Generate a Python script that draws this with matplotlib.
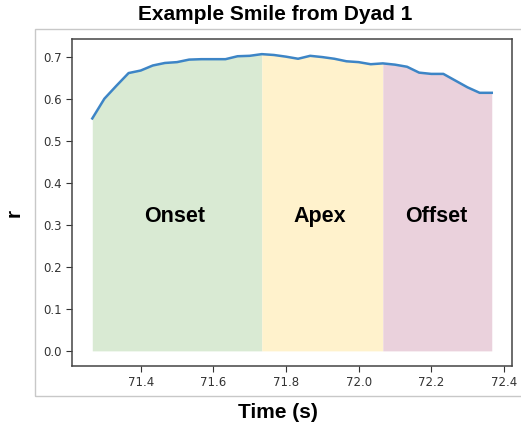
import numpy as np
import matplotlib.pyplot as plt
from matplotlib.patches import Rectangle

# frames at 30 fps
frames = np.arange(2138, 2172)
r_vals = [0.553, 0.600, 0.631, 0.661, 0.667, 0.679, 0.685, 0.687, 0.693, 0.694,
          0.694, 0.694, 0.701, 0.702, 0.706, 0.704, 0.700, 0.695, 0.702, 0.699,
          0.695, 0.689, 0.687, 0.682, 0.684, 0.681, 0.676, 0.662, 0.659, 0.659,
          0.643, 0.627, 0.614, 0.614]
phase_names = ["Onset", "Apex", "Offset"]
phase_bounds = [2138, 2152, 2162, 2171]  # frame indices
phase_colors = ["#d9ead3", "#fff2cc", "#ead1dc"]

t = frames / 30.0
r = np.array(r_vals)

fig = plt.figure(figsize=(5.21, 4.30), dpi=100)

# light frame around the inner plot (right edge runs off the image)
fig.patches.append(Rectangle((0.0666, 0.079), 0.96, 0.853, transform=fig.transFigure,
                             fill=False, edgecolor="#c8c8c8", linewidth=1.0))

ax = fig.add_axes([0.1388, 0.1495, 0.8434, 0.7591])
for i in range(3):
    lo, hi = phase_bounds[i], phase_bounds[i + 1]
    m = (frames >= lo) & (frames <= hi)
    ax.fill_between(t[m], 0, r[m], color=phase_colors[i], linewidth=0)
ax.plot(t, r, color="#3d85c6", linewidth=1.8)

ax.set_xticks([71.4, 71.6, 71.8, 72.0, 72.2, 72.4])
ax.set_yticks(np.arange(0, 0.71, 0.1))
ax.tick_params(labelsize=8.5, colors="#333333", length=4)
for s in ax.spines.values():
    s.set_color("#444444")
    s.set_linewidth(1.1)

bold = dict(family="Liberation Sans", fontweight="bold")
label_x = [175, 320, 436]
for name, x in zip(phase_names, label_x):
    fig.text(x / 521, 1 - 216 / 430, name, ha="center", va="center", fontsize=15.5, **bold)

fig.text(275 / 521, 1 - 14 / 430, "Example Smile from Dyad 1", ha="center", va="center",
         fontsize=15, **bold)
fig.text(278 / 521, 1 - 412 / 430, "Time (s)", ha="center", va="center", fontsize=15, **bold)
fig.text(14 / 521, 1 - 213 / 430, "r", ha="center", va="center", fontsize=15,
         rotation=90, **bold)

plt.savefig("out.png", dpi=100)
